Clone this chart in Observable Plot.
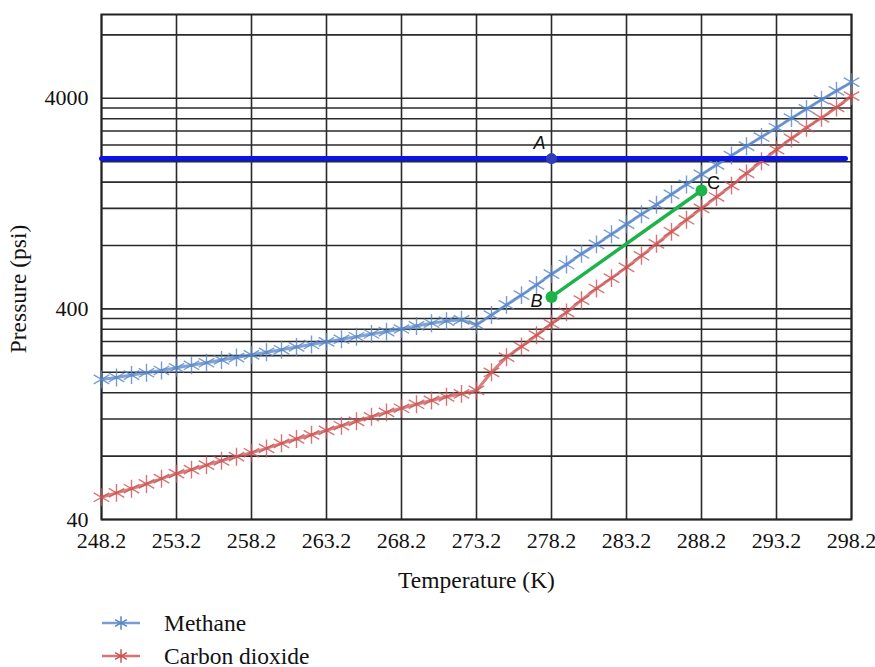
<!DOCTYPE html>
<html><head><meta charset="utf-8">
<script src="https://cdn.jsdelivr.net/npm/d3@7"></script>
<script src="https://cdn.jsdelivr.net/npm/@observablehq/plot@0.6"></script>
<style>
html,body{margin:0;padding:0;background:#fff;}
body{width:875px;height:667px;overflow:hidden;font-family:"Liberation Serif","Times New Roman",serif;}
#wrap{position:relative;width:875px;height:667px;}
#legend{position:absolute;left:100px;top:606px;}
.row{display:flex;align-items:center;height:33px;font-size:23.5px;line-height:28px;color:#111;}
.row svg{margin-right:22px;}
</style></head><body>
<div id="wrap"><div id="chart"></div><div id="legend"></div></div>
<script>
// Temperatures (K)
const temperatures = [248.2,249.2,250.2,251.2,252.2,253.2,254.2,255.2,256.2,257.2,258.2,259.2,260.2,261.2,262.2,263.2,264.2,265.2,266.2,267.2,268.2,269.2,270.2,271.2,272.2,273.2,274.2,275.2,276.2,277.2,278.2,279.2,280.2,281.2,282.2,283.2,284.2,285.2,286.2,287.2,288.2,289.2,290.2,291.2,292.2,293.2,294.2,295.2,296.2,297.2,298.2];
// Methane hydrate equilibrium pressure (psi)
const methane = [185,189,194,199,204,210,216,222,229,235,242,249,256,264,271,279,287,295,304,312,321,332,342,350,355,336,374,418,465,520,585,650,730,810,905,1010,1125,1250,1400,1560,1740,1930,2140,2370,2620,2900,3220,3560,3940,4340,4770];
// Carbon dioxide hydrate equilibrium pressure (psi)
const co2 = [51,53.5,56,59,62.5,66,69,72.5,76,79.5,83,87,92,96.5,101,106,111.5,117,123,129,135,141,147,153,158,164,200,236,265,300,340,385,440,500,560,630,715,815,930,1060,1200,1360,1540,1760,2010,2280,2580,2900,3230,3620,4100];
const seriesNames = ["Methane","Carbon dioxide"];
const seriesColors = ["#5584c8","#cc5252"];
// Axis ticks, titles and grid
const xTicks = [248.2,253.2,258.2,263.2,268.2,273.2,278.2,283.2,288.2,293.2,298.2];
const yTicks = [40,400,4000];
const yGrid = [40,80,120,160,200,240,280,320,360,400,800,1200,1600,2000,2400,2800,3200,3600,4000,8000];
const xTitle = "Temperature (K)";
const yTitle = "Pressure (psi)";
// Annotation: horizontal line A, segment B-C
const lineATemps = [248.2,297.8];
const lineAPressure = 2070;
const pointLabels = ["A","B","C"];
const pointTemps = [278.2,278.2,288.2];
const pointPressures = [2070,456,1460];

const mData = temperatures.map((t,i)=>({t, p: methane[i]}));
const cData = temperatures.map((t,i)=>({t, p: co2[i]}));
const aLine = lineATemps.map(t=>({t, p: lineAPressure}));
const pts = pointLabels.map((l,i)=>({l, t: pointTemps[i], p: pointPressures[i]}));
const bc = pts.slice(1);
const labelFont = '"Liberation Sans",Arial,sans-serif';

const chart = Plot.plot({
  width: 875, height: 600,
  marginLeft: 101, marginRight: 24, marginTop: 14, marginBottom: 81,
  style: {fontFamily: '"Liberation Serif","Times New Roman",serif', fontSize: "22px", color: "#111", background: "#fff"},
  x: {domain: [248.2, 298.2], ticks: xTicks, tickFormat: d=>d.toFixed(1), tickSize: 0, tickPadding: 13, label: null},
  y: {type: "log", domain: [40, 10000], ticks: yTicks, tickFormat: d=>String(d), tickSize: 0, tickPadding: 13, label: null},
  marks: [
    Plot.ruleY(yGrid, {stroke: "#2a2a2a", strokeWidth: 1.6}),
    Plot.ruleX(xTicks, {stroke: "#2a2a2a", strokeWidth: 1.6}),
    Plot.frame({stroke: "#222", strokeWidth: 2}),
    Plot.line(cData, {x: "t", y: "p", stroke: seriesColors[1], strokeWidth: 3, strokeOpacity: 0.75}),
    Plot.dot(cData, {x: "t", y: "p", symbol: "asterisk", r: 8.5, stroke: seriesColors[1], strokeWidth: 1.4, strokeOpacity: 0.8}),
    Plot.line(mData, {x: "t", y: "p", stroke: seriesColors[0], strokeWidth: 3, strokeOpacity: 0.75}),
    Plot.dot(mData, {x: "t", y: "p", symbol: "asterisk", r: 8.5, stroke: seriesColors[0], strokeWidth: 1.4, strokeOpacity: 0.8}),
    Plot.line(aLine, {x: "t", y: "p", stroke: "#0a14e8", strokeWidth: 5}),
    Plot.line(bc, {x: "t", y: "p", stroke: "#1db34a", strokeWidth: 3.5}),
    Plot.dot(pts.slice(0,1), {x: "t", y: "p", r: 5.5, fill: "#2b3db8"}),
    Plot.dot(bc, {x: "t", y: "p", r: 6, fill: "#1db34a"}),
    Plot.text(pts.slice(0,1), {x: "t", y: "p", text: "l", dx: -12, dy: -15, fontFamily: labelFont, fontStyle: "italic", fontSize: 18, fill: "#111"}),
    Plot.text(pts.slice(1,2), {x: "t", y: "p", text: "l", dx: -15, dy: 4, fontFamily: labelFont, fontStyle: "italic", fontSize: 18, fill: "#111"}),
    Plot.text(pts.slice(2), {x: "t", y: "p", text: "l", dx: 12, dy: -7, fontFamily: labelFont, fontSize: 18, fill: "#111"}),
    Plot.text([xTitle], {text: d=>d, frameAnchor: "bottom", lineAnchor: "middle", textAnchor: "middle", dy: 61, fontSize: 23.5, fill: "#111"}),
    Plot.text([yTitle], {text: d=>d, frameAnchor: "left", rotate: -90, textAnchor: "middle", lineAnchor: "middle", dx: -83, dy: 22, fontSize: 23.5, fill: "#111"})
  ]
});
document.getElementById("chart").appendChild(chart);

// Legend
const leg = document.getElementById("legend");
const sym = d3.symbol(d3.symbolAsterisk, Math.PI*42)();
seriesNames.forEach((name,i)=>{
  const row = document.createElement("div"); row.className = "row";
  row.innerHTML = `<svg width="42" height="20" viewBox="0 0 42 20"><line x1="2" y1="10" x2="40" y2="10" stroke="${seriesColors[i]}" stroke-width="2.5" stroke-opacity="0.8"/><path transform="translate(21,10)" d="${sym}" stroke="${seriesColors[i]}" stroke-width="1.5" fill="none"/></svg><span>${name}</span>`;
  leg.appendChild(row);
});
</script>
</body></html>
